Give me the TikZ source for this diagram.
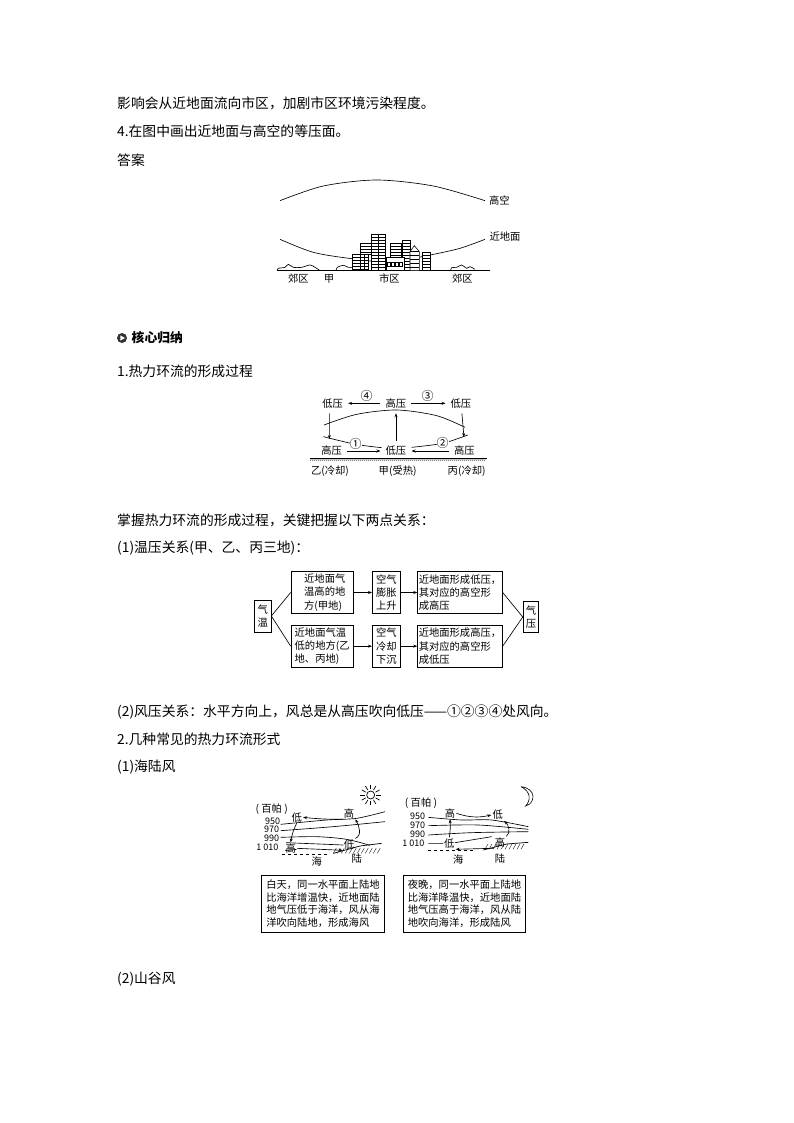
\documentclass[tikz,border=0pt]{standalone}
\usepackage{fontspec}
\setmainfont{Noto Sans CJK SC}
\usetikzlibrary{arrows.meta}
\begin{document}
\begin{tikzpicture}
[x=1pt,y=-1pt,
  textdecorate/.style={anchor=west,inner sep=0pt,font=\fontsize{13.8}{16}\selectfont},%
  labeldecorate/.style={inner sep=0pt,font=\fontsize{10.3}{12}\selectfont},%
  numdecorate/.style={inner sep=0pt,font=\fontsize{9}{9}\selectfont},%
  circdecorate/.style={inner sep=0pt,font=\fontsize{12}{12}\selectfont},%
  windecorate/.style={inner sep=5pt,font=\fontsize{10.3}{12}\selectfont},%
  boxdecorate/.style={draw,line width=0.7pt,inner sep=0pt,align=left,font=\fontsize{10.3}{13.3}\selectfont},%
  linedecorate/.style={line width=0.65pt},%
  arrowdecorate/.style={line width=0.65pt,-{Stealth[length=4pt,width=3pt]}},%
  zoomed/.style={x=0.3333pt,y=-0.3333pt}]
\useasboundingbox (0,0) rectangle (794,1123);
\fill[white] (0,0) rectangle (794,1123);
%% page text
\foreach \linename/\y/\linetext in {
  t1/103/{影响会从近地面流向市区，加剧市区环境污染程度。},
  t2/131/{4.在图中画出近地面与高空的等压面。},
  t3/160/{答案},
  t4/371/{1.热力环流的形成过程},
  t5/520/{掌握热力环流的形成过程，关键把握以下两点关系：},
  t6/548/{(1)温压关系(甲、乙、丙三地)：},
  t7/712/{(2)风压关系：水平方向上，风总是从高压吹向低压——①②③④处风向。},
  t8/739/{2.几种常见的热力环流形式},
  t9/767/{(1)海陆风},
  t10/979/{(2)山谷风}}
{
  \node (\linename) at (117,\y) [textdecorate] {\linetext};
}
\node (icon) at (122,338) [circle,fill=black!80,minimum size=10pt,inner sep=0pt] {};
\fill[white] (120.3,335.4) -- (125,338) -- (120.3,340.6) -- cycle;
\node (guina) at (131.5,338) [textdecorate,font=\fontsize{12.8}{15}\selectfont\bfseries] {核心归纳};
%% isobars over the city
\begin{scope}[shift={(260,180)},zoomed]
\coordinate (gl) at (52,272);
\coordinate (gr) at (690,272);
\draw[linedecorate] (gl) -- (gr);
\draw[linedecorate] plot[smooth] coordinates {(60,62) (190,18) (350,0) (520,18) (675,62)};
\draw[linedecorate] plot[smooth] coordinates {(60,178) (160,217) (275,236) (390,246) (510,225) (600,205) (675,178)};
\foreach \nodename/\x/\y/\labeltext in {
  gaokong/718/62/高空, jindi/735/170/近地面, jiaol/115/297/郊区,
  jia/207/297/甲, shi/388/297/市区, jiaor/607/297/郊区}
{
  \node (\nodename) at (\x,\y) [labeldecorate] {\labeltext};
}
%% bushes
\draw[linedecorate] plot[smooth] coordinates {(52,272) (55,265) (75,262) (85,253) (100,262) (125,262) (150,255) (165,262) (180,272)};
\draw[linedecorate] plot[smooth] coordinates {(228,272) (232,262) (250,256) (265,262) (277,262)};
\draw[linedecorate] plot[smooth] coordinates {(572,272) (575,263) (590,262) (605,255) (620,265) (630,260) (645,268)};
%% buildings
\foreach \xa/\ya/\xb/\yb in {
  302/190/333/222, 392/190/424/232, 427/180/450/272, 334/163/377/272,
  277/222/325/272, 488/217/510/272}
{
  \draw[fill=white,line width=0.6pt] (\xa,\ya) rectangle (\xb,\yb);
  \pgfmathsetmacro{\ynext}{\ya+9}
  \foreach \yy in {\ya,\ynext,...,\yb}
    \draw[line width=0.45pt] (\xa,\yy) -- (\xb,\yy);
}
\draw[line width=0.45pt] (301,222) -- (301,272) (313,222) -- (313,272) (355,163) -- (355,272);
\draw[fill=white,line width=0.6pt] (450,215) -- (463,197) -- (478,215) -- (478,272) -- (450,272) -- cycle;
\foreach \yy in {215,227,239,251,263}
  \draw[line width=0.45pt] (450,\yy) -- (478,\yy);
\draw[fill=white,line width=0.6pt] (378,232) rectangle (432,272);
\foreach \xx in {382,394,406,418}
  \draw[line width=0.5pt] (\xx,247) rectangle ++(8,11);
\end{scope}
%% thermal circulation
\begin{scope}[shift={(290,385)},zoomed]
\foreach \nodename/\x/\y/\labeltext in {
  a1/128/55/低压, a2/318/55/高压, a3/513/55/低压,
  b1/125/198/高压, b2/318/198/低压, b3/523/198/高压}
{
  \node (\nodename) at (\x,\y) [windecorate] {\labeltext};
}
\foreach \nodename/\x/\labeltext in {c1/120/乙(冷却), c2/323/甲(受热), c3/530/丙(冷却)}
{
  \node (\nodename) at (\x,258) [labeldecorate] {\labeltext};
}
\draw[linedecorate] plot[smooth] coordinates {(102,120) (200,88) (320,75) (440,92) (525,127)};
\draw[linedecorate] plot[smooth] coordinates {(100,155) (197,178) (275,188)};
\draw[linedecorate] plot[smooth] coordinates {(365,187) (458,175) (533,150)};
\node (n4) at (230,33) [circdecorate] {④};
\node (n3) at (413,33) [circdecorate] {③};
\node (n1) at (197,178) [circdecorate,fill=white] {①};
\node (n2) at (458,175) [circdecorate,fill=white] {②};
\path
\foreach \startnode/\endnode in {a2/a1, a2/a3, b1/b2, b3/b2, b2/a2} {
  (\startnode) edge[arrowdecorate] (\endnode)
};
\draw[arrowdecorate,shorten >=2pt] ([xshift=-3.3pt]a1.south) -- ([xshift=-2.3pt]b1.north);
\draw[arrowdecorate,shorten >=4pt] (a3) -- (b3.north);
\coordinate (gl) at (60,220);
\coordinate (gr) at (590,220);
\draw[line width=0.7pt] (gl) -- (gr);
\foreach \xx in {60,66,...,584}
  \draw[line width=0.3pt] (\xx,227) -- (\xx+6,220);
\end{scope}
%% temperature and pressure boxes
\begin{scope}[shift={(245,560)},zoomed]
\foreach \nodename/\x/\y/\boxw/\boxh/\labeltext in {
  qw/53/168/16.7/32.3/{气\\温},
  a/231.5/97.5/62.3/41.7/{\hspace*{5.2pt}近地面气\\\hspace*{5.2pt}温高的地\\\hspace*{5.2pt}方(甲地)},
  b/424.5/97.5/28.3/41.7/{空气\\膨胀\\上升},
  c/645/97.5/84.7/41.7/{近地面形成低压，\\其对应的高空形\\成高压},
  d/231.5/258.5/62.3/42/{近地面气温\\低的地方(乙\\地、丙地)},
  e/424.5/258.5/28.3/42/{空气\\冷却\\下沉},
  f/645/258.5/84.7/42/{近地面形成高压，\\其对应的高空形\\成低压},
  qy/858/171/15.7/30.7/{气\\压}}
{
  \node (\nodename) at (\x,\y) [boxdecorate,minimum width=\boxw pt,minimum height=\boxh pt] {\labeltext};
}
\path
\foreach \startnode/\endnode in {qw.east/a.west, qw.east/d.west, c.east/qy.west, f.east/qy.west} {
  (\startnode) edge[linedecorate] (\endnode)
};
\path
\foreach \startnode/\endnode in {a/b, b/c, d/e, e/f} {
  (\startnode) edge[arrowdecorate] (\endnode)
};
\end{scope}
%% land breeze by day
\begin{scope}[shift={(250,780)},zoomed]
\foreach \nodename/\x/\y/\labeltext in {
  bai/65/88/( 百帕 ), hai/200/245/海, lu/320/235/陆}
{
  \node (\nodename) at (\x,\y) [labeldecorate] {\labeltext};
}
\foreach \nodename/\x/\y/\labeltext in {p1/68/124/950, p2/65/149/970, p3/65/175/990, p4/52/203/1 010}
{
  \node (\nodename) at (\x,\y) [numdecorate] {\labeltext};
}
\foreach \nodename/\x/\y/\labeltext in {l1/140/112/低, h1/297/100/高, h2/122/205/高, l2/297/193/低}
{
  \node (\nodename) at (\x,\y) [labeldecorate,inner sep=1pt] {\labeltext};
}
\draw[linedecorate] plot[smooth] coordinates {(92,133) (230,120) (320,115) (405,95)};
\draw[linedecorate] plot[smooth] coordinates {(92,152) (250,140) (405,125)};
\draw[linedecorate] plot[smooth] coordinates {(92,172) (200,170) (290,178) (360,196)};
\draw[linedecorate] (105,212) -- (140,208) (108,188) -- (280,195);
\draw[arrowdecorate] (h1.south west) to[bend left=3] (l1.east);
\draw[arrowdecorate] (h2.east) -- (l2.south west);
\draw[arrowdecorate] (l1.south) to[bend right=8] (h2.north);
\draw[arrowdecorate] (l2.north east) to[out=20,in=-60] (h1.south east);
\draw[linedecorate,dashed] (97,222) -- (240,222);
\draw[line width=0.7pt] (250,220) -- (330,198) -- (395,190);
\foreach \xx in {250,262,...,388}
  \draw[line width=0.35pt] (\xx,220) -- (\xx+9,204);
\coordinate (sun) at (362,45);
\draw[line width=0.7pt] (sun) circle (12);
\foreach \ang in {0,30,...,330}
  \draw[line width=0.7pt] (sun) ++(\ang:17) -- ++(\ang:14);
\end{scope}
%% sea breeze by night
\begin{scope}[shift={(395,780)},zoomed]
\foreach \nodename/\x/\y/\labeltext in {
  bai/78/68/( 百帕 ), hai/190/240/海, lu/315/235/陆}
{
  \node (\nodename) at (\x,\y) [labeldecorate] {\labeltext};
}
\foreach \nodename/\x/\y/\labeltext in {p1/68/108/950, p2/68/135/970, p3/68/162/990, p4/55/190/1 010}
{
  \node (\nodename) at (\x,\y) [numdecorate] {\labeltext};
}
\foreach \nodename/\x/\y/\labeltext in {h1/165/100/高, l1/308/105/低, l2/163/190/低, h2/315/187/高}
{
  \node (\nodename) at (\x,\y) [labeldecorate,inner sep=1pt] {\labeltext};
}
\draw[linedecorate] plot[smooth] coordinates {(100,112) (200,120) (290,120) (400,140)};
\draw[linedecorate] plot[smooth] coordinates {(100,137) (250,135) (400,148)};
\draw[linedecorate] plot[smooth] coordinates {(100,165) (230,158) (400,155)};
\draw[linedecorate] (100,190) -- (145,190) (180,188) -- (290,170);
\draw[arrowdecorate] (h1.east) to[bend right=15] (l1.west);
\draw[arrowdecorate] (h2.south west) -- (l2.south east);
\draw[arrowdecorate] (l2.north) to[bend right=6] (h1.south);
\draw[arrowdecorate] (h2.north east) to[out=40,in=-40] (l1.south east);
\draw[linedecorate,dashed] (100,212) -- (240,212);
\draw[line width=0.7pt] (265,210) -- (335,192) -- (400,187);
\foreach \xx in {270,282,...,388}
  \draw[line width=0.35pt] (\xx,208) -- (\xx+9,192);
\fill[white,draw=black,line width=0.6pt] (378,20) .. controls (425,25) and (422,70) .. (392,78) .. controls (408,60) and (408,35) .. (378,20);
\end{scope}
%% explanation boxes
\begin{scope}[shift={(255,865)},zoomed]
\foreach \nodename/\x/\labeltext in {
  day/204/{白天，同一水平面上陆地\\比海洋增温快，近地面陆\\地气压低于海洋，风从海\\洋吹向陆地，形成海风},
  night/628.5/{夜晚，同一水平面上陆地\\比海洋降温快，近地面陆\\地气压高于海洋，风从陆\\地吹向海洋，形成陆风}}
{
  \node (\nodename) at (\x,116) [boxdecorate,minimum width=122.5pt,minimum height=57.3pt,font=\fontsize{10.3}{12.8}\selectfont] {\labeltext};
}
\end{scope}
\end{tikzpicture}
\end{document}
